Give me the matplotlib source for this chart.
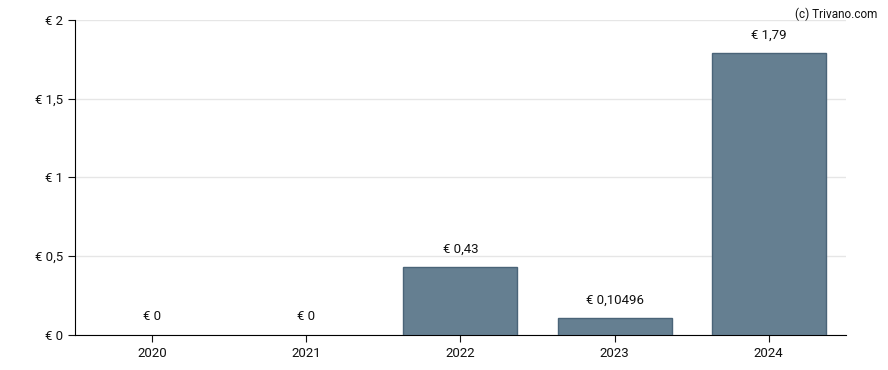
import matplotlib.pyplot as plt

plt.rcParams['font.family'] = ['Roboto', 'DejaVu Sans']

years = ['2020', '2021', '2022', '2023', '2024']
values = [0, 0, 0.43, 0.10496, 1.79]
labels = ['€ 0', '€ 0', '€ 0,43', '€ 0,10496', '€ 1,79']
y_ticks = [0, 0.5, 1, 1.5, 2]
y_tick_labels = ['€ 0', '€ 0,5', '€ 1', '€ 1,5', '€ 2']

fig = plt.figure(figsize=(8.88, 3.70), dpi=100)
ax = fig.add_axes([0.0845, 0.0946, 0.868, 0.8514])

x = range(len(years))
# no outline on empty bars, otherwise a stray line shows on the axis
edge_widths = [1 if v > 0 else 0 for v in values]
ax.bar(x, values, width=0.74, color='#657f91', edgecolor='#4a6478',
       linewidth=edge_widths, zorder=3)

for xi, v, lab in zip(x, values, labels):
    ax.annotate(lab, (xi, v), xytext=(0, 13), textcoords='offset points',
                ha='center', va='center', fontsize=9.5, color='#111111')

ax.set_xlim(-0.5, 4.5)
ax.set_ylim(0, 2)
ax.set_xticks(list(x))
ax.set_xticklabels(years)
ax.set_yticks(y_ticks)
ax.set_yticklabels(y_tick_labels)
ax.tick_params(labelsize=9.5, colors='#111111', length=5)
ax.grid(axis='y', color='#e6e6e6', linewidth=1, zorder=0)

for s in ['top', 'right']:
    ax.spines[s].set_visible(False)
for s in ['left', 'bottom']:
    ax.spines[s].set_color('black')

fig.text(0.988, 0.98, '(c) Trivano.com', ha='right', va='top', fontsize=8.5, color='#111111')

fig.savefig('out.png', dpi=100)
